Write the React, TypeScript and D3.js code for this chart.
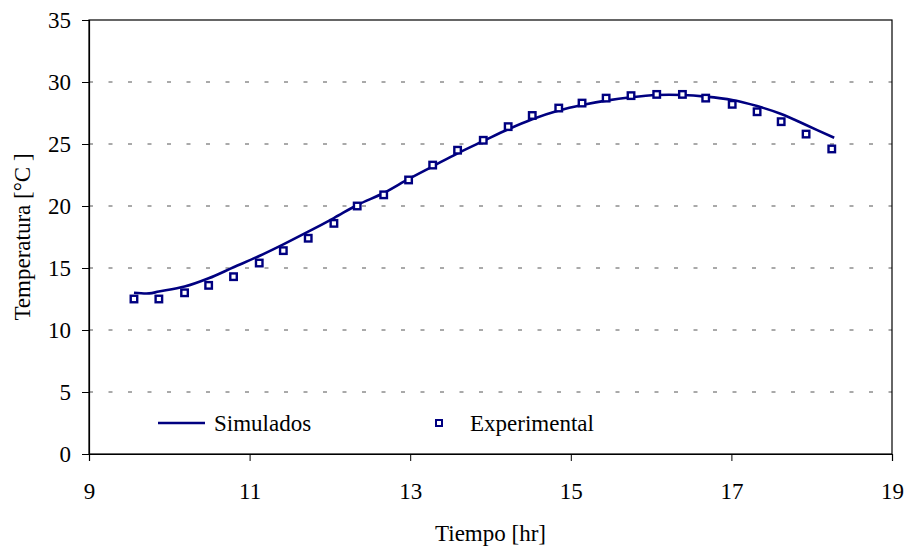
import React, { useRef, useEffect } from 'react';
import * as d3 from 'd3';

// time of each reading (hours)
const times = [9.56, 9.87, 10.19, 10.49, 10.8, 11.12, 11.42, 11.73, 12.05, 12.34, 12.67, 12.98, 13.28, 13.59, 13.91,
  14.22, 14.52, 14.85, 15.14, 15.44, 15.75, 16.07, 16.39, 16.68, 17.01, 17.32, 17.62, 17.93, 18.25];
// measured temperature
const experimental = [12.5, 12.5, 13.0, 13.6, 14.3, 15.4, 16.4, 17.4, 18.6, 20.0, 20.9, 22.1, 23.3, 24.5, 25.3,
  26.4, 27.3, 27.9, 28.3, 28.7, 28.9, 29.0, 29.0, 28.7, 28.2, 27.6, 26.8, 25.8, 24.6];
// model output
const simTimes = [9.56, 9.75, 9.87, 10.19, 10.49, 10.8, 11.12, 11.42, 11.73, 12.05, 12.34, 12.67, 12.98, 13.28, 13.59, 13.91,
  14.22, 14.52, 14.85, 15.14, 15.44, 15.75, 16.07, 16.39, 16.68, 17.01, 17.32, 17.62, 17.93, 18.28];
const simulated = [13.0, 12.95, 13.1, 13.5, 14.17, 15.06, 15.97, 16.91, 17.93, 19.03, 20.08, 21.05, 22.18, 23.2, 24.25, 25.24,
  26.19, 27.0, 27.7, 28.15, 28.5, 28.77, 28.95, 28.95, 28.82, 28.55, 28.06, 27.42, 26.53, 25.5];

const xTicks = [9, 11, 13, 15, 17, 19];
const yTicks = [0, 5, 10, 15, 20, 25, 30, 35];

const App = () => {
  const svgRef = useRef<SVGSVGElement>(null);

  useEffect(() => {
    const width = 907;
    const height = 547;
    const margin = { top: 20, right: 15, bottom: 93, left: 89 };
    const navy = '#000080';
    const font = "Liberation Serif, Tinos, Times New Roman, DejaVu Serif, serif";

    const svg = d3.select(svgRef.current);
    svg.selectAll('*').remove();
    svg.attr('width', width).attr('height', height)
      .style('display', 'block');

    const x = d3.scaleLinear().domain([9, 19]).range([margin.left, width - margin.right]);
    const y = d3.scaleLinear().domain([0, 35]).range([height - margin.bottom, margin.top]);

    // dashed grid
    svg.append('g')
      .selectAll('line')
      .data(yTicks.filter(d => d > 0 && d < 35))
      .join('line')
      .attr('x1', x(9)).attr('x2', x(19))
      .attr('y1', d => y(d)).attr('y2', d => y(d))
      .attr('stroke', '#555')
      .attr('stroke-dasharray', '4,15.5');

    // frame
    svg.append('rect')
      .attr('x', x(9)).attr('y', y(35))
      .attr('width', x(19) - x(9)).attr('height', y(0) - y(35))
      .attr('fill', 'none').attr('stroke', '#000').attr('stroke-width', 1.2);

    // axes
    const xAxis = svg.append('g')
      .attr('transform', `translate(0,${y(0)})`)
      .call(d3.axisBottom(x).tickValues(xTicks).tickSize(7).tickPadding(22).tickFormat(d3.format('d')));
    const yAxis = svg.append('g')
      .attr('transform', `translate(${x(9)},0)`)
      .call(d3.axisLeft(y).tickValues(yTicks).tickSize(7).tickPadding(11).tickFormat(d3.format('d')));
    [xAxis, yAxis].forEach(g => {
      g.attr('font-family', null).attr('font-size', null);
      g.select('.domain').attr('stroke', '#000').attr('stroke-width', 1.2);
      g.selectAll('.tick line').attr('stroke', '#000');
      g.selectAll('.tick text').attr('fill', '#000')
        .style('font-family', font).style('font-size', '23px');
    });

    // simulated curve
    const line = d3.line<number>()
      .x((_, i) => x(simTimes[i]))
      .y(d => y(d))
      .curve(d3.curveCatmullRom);
    svg.append('path')
      .datum(simulated)
      .attr('d', line)
      .attr('fill', 'none')
      .attr('stroke', navy)
      .attr('stroke-width', 2.6);

    // experimental markers
    const s = 6.5;
    svg.append('g')
      .selectAll('rect')
      .data(experimental)
      .join('rect')
      .attr('x', (_, i) => x(times[i]) - s / 2)
      .attr('y', d => y(d) - s / 2)
      .attr('width', s).attr('height', s)
      .attr('fill', '#fff')
      .attr('stroke', navy)
      .attr('stroke-width', 2.4);

    const label = (sel: d3.Selection<SVGTextElement, unknown, null, undefined>) =>
      sel.style('font-family', font).style('font-size', '23px').attr('fill', '#000');

    // legend
    const legY = 423;
    svg.append('line')
      .attr('x1', 158).attr('x2', 205).attr('y1', legY).attr('y2', legY)
      .attr('stroke', navy).attr('stroke-width', 2.6);
    svg.append('text').attr('x', 214).attr('y', legY + 8).text('Simulados').call(label);
    svg.append('rect')
      .attr('x', 439 - 3).attr('y', legY - 3).attr('width', 6).attr('height', 6)
      .attr('fill', '#fff').attr('stroke', navy).attr('stroke-width', 2);
    svg.append('text').attr('x', 470).attr('y', legY + 8).text('Experimental').call(label);

    // axis titles
    svg.append('text')
      .attr('x', (x(9) + x(19)) / 2).attr('y', 541)
      .attr('text-anchor', 'middle')
      .text('Tiempo [hr]')
      .call(label);
    svg.append('text')
      .attr('transform', `translate(30,${(y(0) + y(35)) / 2}) rotate(-90)`)
      .attr('text-anchor', 'middle')
      .text('Temperatura [°C ]')
      .call(label);
  }, []);

  return <svg ref={svgRef} style={{ position: 'absolute', left: 0, top: 0 }} />;
};

export default App;
